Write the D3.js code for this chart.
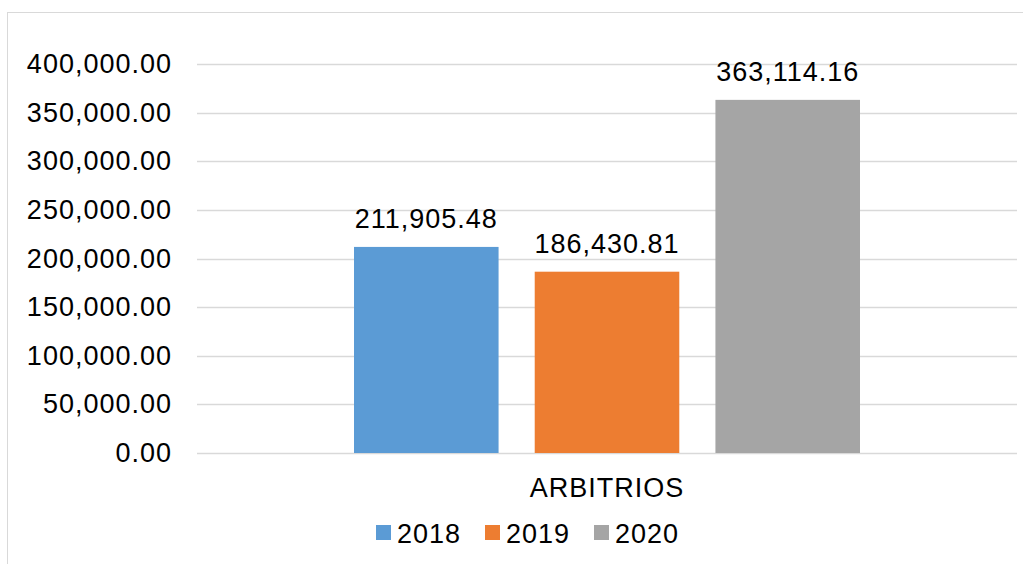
<!DOCTYPE html>
<html>
<head>
<meta charset="utf-8">
<script src="https://cdn.jsdelivr.net/npm/d3@7"></script>
<style>
  body { margin: 0; background: #fff; }
  text { font-family: "Liberation Sans", Arial, sans-serif; fill: #000; letter-spacing: 1px; }
</style>
</head>
<body>
<svg id="chart" width="1023" height="564"></svg>
<script>
// Chart data
var category = 'ARBITRIOS';
var years = ['2018', '2019', '2020'];
var values = [211905.48, 186430.81, 363114.16];
var colors = ['#5b9bd5', '#ed7d31', '#a5a5a5'];
var yTicks = [0, 50000, 100000, 150000, 200000, 250000, 300000, 350000, 400000];

var svg = d3.select('#chart');

// outer chart border
svg.append('rect')
  .attr('x', 7.5).attr('y', 12.5)
  .attr('width', 1030).attr('height', 570)
  .attr('fill', 'none')
  .attr('stroke', '#d9d9d9')
  .attr('stroke-width', 1);

var plotLeft = 197, plotRight = 1017, plotTop = 64, plotBottom = 453;

var y = d3.scaleLinear().domain([0, 400000]).range([plotBottom, plotTop]);
var xCat = d3.scaleBand().domain([category]).range([plotLeft, plotRight]);
var xSeries = d3.scaleBand().domain(years)
  .range([xCat(category) + 157, xCat(category) + xCat.bandwidth() - 157])
  .paddingInner(0.2);

var fmt = d3.format(',.2f');

// gridlines
svg.append('g').selectAll('line')
  .data(yTicks)
  .enter()
    .append('line')
      .attr('x1', plotLeft).attr('x2', plotRight)
      .attr('y1', function(d) { return Math.round(y(d)) + 0.5; })
      .attr('y2', function(d) { return Math.round(y(d)) + 0.5; })
      .attr('stroke', '#d9d9d9')
      .attr('stroke-width', 1.5);

// y labels
svg.append('g').selectAll('text')
  .data(yTicks)
  .enter()
    .append('text')
      .attr('x', 172)
      .attr('y', function(d) { return y(d) + 9; })
      .attr('text-anchor', 'end')
      .attr('font-size', 27)
      .text(function(d) { return fmt(d); });

// bars
svg.append('g').selectAll('rect')
  .data(values)
  .enter()
    .append('rect')
      .attr('x', function(d, i) { return xSeries(years[i]); })
      .attr('width', xSeries.bandwidth())
      .attr('y', function(d) { return y(d); })
      .attr('height', function(d) { return plotBottom - y(d); })
      .attr('fill', function(d, i) { return colors[i]; });

// data labels
svg.append('g').selectAll('text')
  .data(values)
  .enter()
    .append('text')
      .attr('x', function(d, i) { return xSeries(years[i]) + xSeries.bandwidth() / 2; })
      .attr('y', function(d) { return y(d) - 19; })
      .attr('text-anchor', 'middle')
      .attr('font-size', 27)
      .text(function(d) { return fmt(d); });

// category label
svg.append('text')
  .attr('x', xCat(category) + xCat.bandwidth() / 2)
  .attr('y', 497)
  .attr('text-anchor', 'middle')
  .attr('font-size', 27)
  .text(category);

// legend
var legendX = [376, 485, 594];
var legend = svg.append('g').selectAll('g')
  .data(years)
  .enter()
    .append('g')
      .attr('transform', function(d, i) { return 'translate(' + legendX[i] + ',525)'; });
legend.append('rect')
  .attr('width', 15).attr('height', 15)
  .attr('fill', function(d, i) { return colors[i]; });
legend.append('text')
  .attr('x', 21).attr('y', 18)
  .attr('font-size', 27)
  .text(function(d) { return d; });
</script>
</body>
</html>
